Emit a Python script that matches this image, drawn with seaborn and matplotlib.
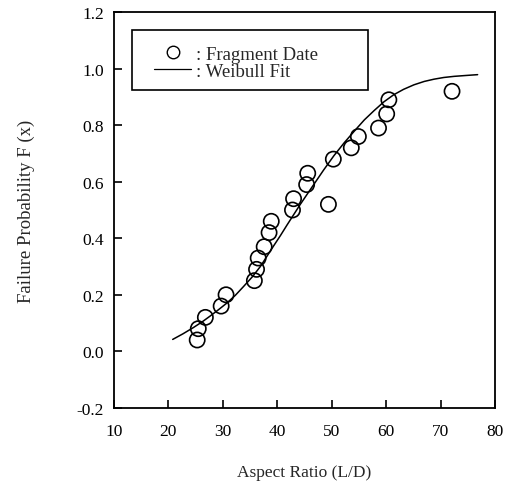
import matplotlib
matplotlib.use("Agg")
import matplotlib.pyplot as plt
import seaborn as sns
import pandas as pd
from matplotlib.lines import Line2D
from matplotlib.patches import Rectangle

# Fragment data
frag_x = [25.3, 25.5, 26.8, 29.7, 30.6, 35.8, 36.2, 36.5, 37.6, 38.5, 38.9,
          42.8, 43.0, 45.4, 45.6, 49.4, 50.3, 53.6, 54.9, 58.6, 60.1, 60.5, 72.1]
frag_y = [0.04, 0.08, 0.12, 0.16, 0.20, 0.25, 0.29, 0.33, 0.37, 0.42, 0.46,
          0.50, 0.54, 0.59, 0.63, 0.52, 0.68, 0.72, 0.76, 0.79, 0.84, 0.89, 0.92]

# Weibull fit curve
fit_x = [20.8, 22.7, 24.6, 26.2, 27.7, 29.2, 30.7, 32.3, 33.8, 35.4, 36.9, 38.1,
         39.3, 40.6, 41.8, 43.0, 44.2, 45.5, 46.7, 48.5, 50.4, 52.3, 54.1,
         56.0, 57.8, 59.6, 61.4, 63.2, 65.1, 67.0, 68.8, 70.6, 72.5, 74.6, 76.8]
fit_y = [0.042, 0.062, 0.084, 0.104, 0.125, 0.147, 0.170, 0.198, 0.229, 0.263,
         0.300, 0.336, 0.372, 0.410, 0.447, 0.483, 0.519, 0.556, 0.590, 0.641,
         0.692, 0.738, 0.778, 0.819, 0.852, 0.883, 0.908, 0.927, 0.943, 0.955,
         0.963, 0.969, 0.973, 0.976, 0.979]

x_ticks = [10, 20, 30, 40, 50, 60, 70, 80]
y_ticks = [-0.2, 0.0, 0.2, 0.4, 0.6, 0.8, 1.0, 1.2]

sns.set_theme(style="white")
plt.rcParams['font.family'] = ['Liberation Serif', 'DejaVu Serif']

frag = pd.DataFrame({"x": frag_x, "y": frag_y})
fit = pd.DataFrame({"x": fit_x, "y": fit_y})

fig = plt.figure(figsize=(5.13, 4.89), dpi=100)
ax = fig.add_axes([0.222, 0.164, 0.743, 0.809])

sns.lineplot(data=fit, x="x", y="y", ax=ax, color="black", linewidth=1.1,
             estimator=None, sort=True)
sns.scatterplot(data=frag, x="x", y="y", ax=ax, marker="o", s=120,
                facecolor="none", edgecolor="black", linewidth=1.2, zorder=3)

ax.set_xlim(10, 80)
ax.set_ylim(-0.2, 1.2)
ax.set_xticks(x_ticks)
ax.set_xticklabels([str(t) for t in x_ticks])
ax.set_yticks(y_ticks)
ax.set_yticklabels([f"{t:.1f}" for t in y_ticks])
ax.tick_params(axis="both", direction="in", length=6, width=1.2,
               labelsize=12.5, colors="black", bottom=True, left=True,
               top=False, right=False)
ax.tick_params(axis="x", pad=11)
ax.tick_params(axis="y", pad=7)
for s in ax.spines.values():
    s.set_color("black")
    s.set_linewidth(1.3)

ax.set_xlabel("Aspect Ratio (L/D)", fontsize=12.5, labelpad=18)
ax.set_ylabel("Failure Probability F (x)", fontsize=13.5, labelpad=30)

# legend frame box
ax.add_patch(Rectangle((0.047, 0.803), 0.62, 0.152, transform=ax.transAxes,
                       fill=False, edgecolor="black", linewidth=1.2, zorder=4))

handles = [
    Line2D([], [], marker="o", linestyle="none", markerfacecolor="none",
           markeredgecolor="black", markersize=9, markeredgewidth=1.0),
    Line2D([], [], color="black", linewidth=0.9),
]
leg = ax.legend(handles, [": Fragment Date", ": Weibull Fit"],
                loc="center left", bbox_to_anchor=(0.105, 0.872),
                frameon=False, fontsize=13.5,
                handlelength=2.0, handletextpad=0.25, borderpad=0,
                labelspacing=0.0, borderaxespad=0)

fig.savefig("out.png", dpi=100)
